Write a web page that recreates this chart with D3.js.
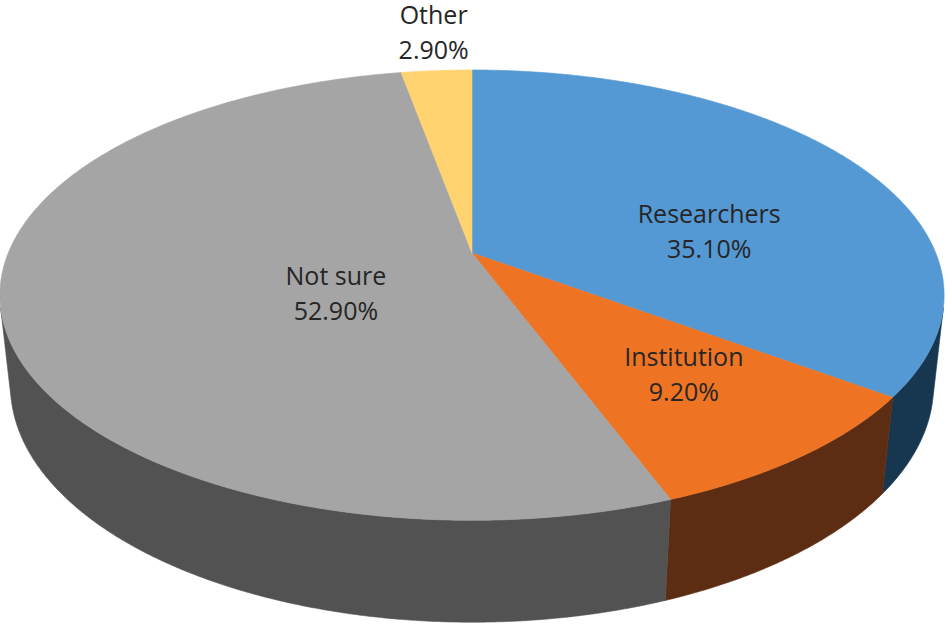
<!DOCTYPE html>
<html>
<head>
<meta charset="utf-8">
<script src="https://cdn.jsdelivr.net/npm/d3@7"></script>
<style>
  html, body { margin: 0; padding: 0; background: #fff; }
  svg { display: block; }
</style>
</head>
<body>
<div id="chart"></div>
<script>
// chart data
const categories = ["Researchers", "Institution", "Not sure", "Other"];
const values = [35.1, 9.2, 52.9, 2.9];
const valueLabels = ["35.10%", "9.20%", "52.90%", "2.90%"];

// slice colours (top face / outer wall)
const topColors = ["#5599d4", "#ee7424", "#a5a5a5", "#ffd470"];
const sideColors = ["#17364f", "#5c2d12", "#525252", "#7f6a38"];

// label placement: radius on the disk + small pixel nudge
const labelRadius = [0.6, 0.6, 0.3, 1.2];
const labelNudge = [[1, 26], [27, -1], [0, 14], [3, -17]];

const width = 946, height = 624;

// perspective camera for the 3d disk
const cam = {
    cx: 472, cy: 253,
    focal: 2189,
    dist: 4.72,
    sinT: 0.4685,
    depth: 0.222
}
cam.cosT = Math.sqrt(1 - cam.sinT * cam.sinT)

// theta: clockwise from 12 o'clock, rho: 0..1, d: 0 = top face, cam.depth = bottom
function project(theta, rho, d) {
    const u = rho * Math.sin(theta)
    const v = -rho * Math.cos(theta)
    const xc = u
    const yc = -d * cam.cosT - v * cam.sinT
    const zc = d * cam.sinT + cam.dist - v * cam.cosT
    return [cam.cx + cam.focal * xc / zc, cam.cy - cam.focal * yc / zc]
}

function arcPoints(a0, a1, d) {
    const n = Math.max(2, Math.ceil((a1 - a0) / 0.005))
    return d3.range(n + 1).map(i => project(a0 + (a1 - a0) * i / n, 1, d))
}

const svg = d3.select("#chart").append("svg")
    .attr("width", width)
    .attr("height", height)

const pie = d3.pie().sort(null).value(d => d)
const arcs = pie(values)

const line = d3.line()

// wall faces the camera where v > 1 / (dist * cos)
const visA = Math.acos(-1 / (cam.dist * cam.cosT))
const visB = 2 * Math.PI - visA

const walls = svg.append("g")
arcs.forEach((a, i) => {
    const a0 = Math.max(a.startAngle, visA)
    const a1 = Math.min(a.endAngle, visB)
    if (a1 <= a0) return
    const pts = arcPoints(a0, a1, 0).concat(arcPoints(a0, a1, cam.depth).reverse())
    walls.append("path")
        .attr("d", line(pts) + "Z")
        .attr("fill", sideColors[i])
        .attr("stroke", sideColors[i])
        .attr("stroke-width", 0.6)
})

const tops = svg.append("g")
arcs.forEach((a, i) => {
    const pts = [project(0, 0, 0)].concat(arcPoints(a.startAngle, a.endAngle, 0))
    tops.append("path")
        .attr("d", line(pts) + "Z")
        .attr("fill", topColors[i])
        .attr("stroke", topColors[i])
        .attr("stroke-width", 0.6)
})

// data labels
const labels = svg.append("g")
    .attr("font-family", "'Open Sans', sans-serif")
    .attr("font-size", "25px")
    .attr("fill", "#262626")
    .attr("text-anchor", "middle")

arcs.forEach((a, i) => {
    const mid = (a.startAngle + a.endAngle) / 2
    const p = project(mid, labelRadius[i], 0)
    const x = p[0] + labelNudge[i][0]
    const y = p[1] + labelNudge[i][1]
    const t = labels.append("text")
    t.append("tspan").attr("x", x).attr("y", y).text(categories[i])
    t.append("tspan").attr("x", x).attr("y", y + 35).text(valueLabels[i])
})
</script>
</body>
</html>
